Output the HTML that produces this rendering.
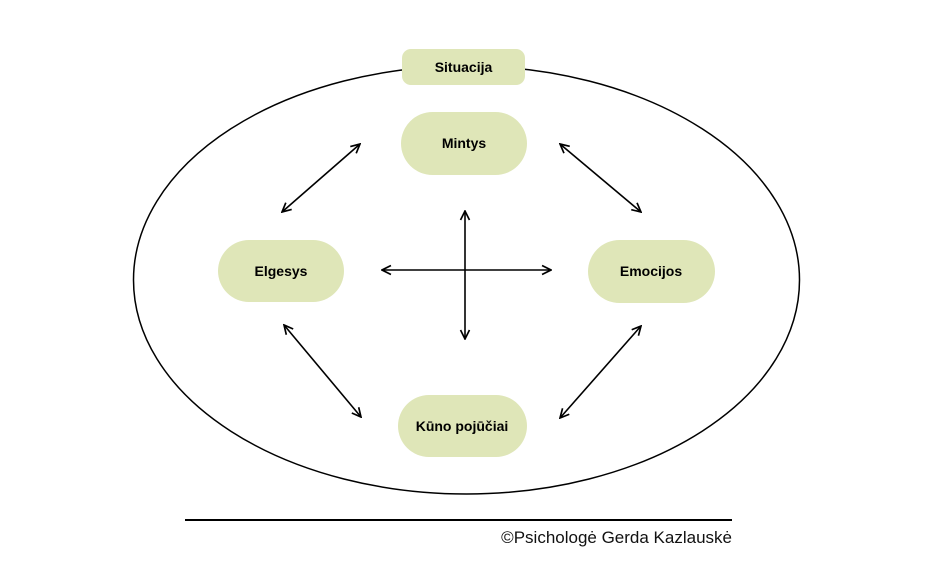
<!DOCTYPE html>
<html><head><meta charset="utf-8"><style>
body{margin:0;background:#fff;width:930px;height:580px;overflow:hidden}
</style></head><body>
<svg width="930" height="580" xmlns="http://www.w3.org/2000/svg" font-family="Liberation Sans, sans-serif">
<defs><marker id="a" viewBox="0 0 10 10" refX="9" refY="5" markerWidth="7" markerHeight="7" orient="auto-start-reverse"><path d="M1,1 L9,5 L1,9" fill="none" stroke="#000" stroke-width="1.5"/></marker></defs>
<ellipse cx="466.5" cy="280" rx="333" ry="214" fill="none" stroke="#000" stroke-width="1.5"/>
<g fill="#dfe6b8">
<rect x="402" y="49" width="123" height="36" rx="9"/>
<rect x="401" y="112" width="126" height="63" rx="31.5"/>
<rect x="218" y="240" width="126" height="62" rx="31"/>
<rect x="588" y="240" width="127" height="63" rx="31.5"/>
<rect x="398" y="395" width="129" height="62" rx="31"/>
</g>
<g font-weight="bold" font-size="14" text-anchor="middle" fill="#000">
<text x="463.5" y="72">Situacija</text>
<text x="464" y="148">Mintys</text>
<text x="281" y="276">Elgesys</text>
<text x="651" y="276">Emocijos</text>
<text x="462" y="431">Kūno pojūčiai</text>
</g>
<g stroke="#000" stroke-width="1.6" marker-start="url(#a)" marker-end="url(#a)">
<line x1="282" y1="212" x2="360" y2="144"/>
<line x1="560" y1="144" x2="641" y2="212"/>
<line x1="284" y1="325" x2="361" y2="417"/>
<line x1="560" y1="418" x2="641" y2="326"/>
<line x1="382" y1="270" x2="551" y2="270"/>
<line x1="465" y1="211" x2="465" y2="339"/>
</g>
<line x1="185" y1="520" x2="732" y2="520" stroke="#000" stroke-width="2"/>
<text x="732" y="543" font-size="17" text-anchor="end" fill="#111">©Psichologė Gerda Kazlauskė</text>
</svg>
</body></html>
